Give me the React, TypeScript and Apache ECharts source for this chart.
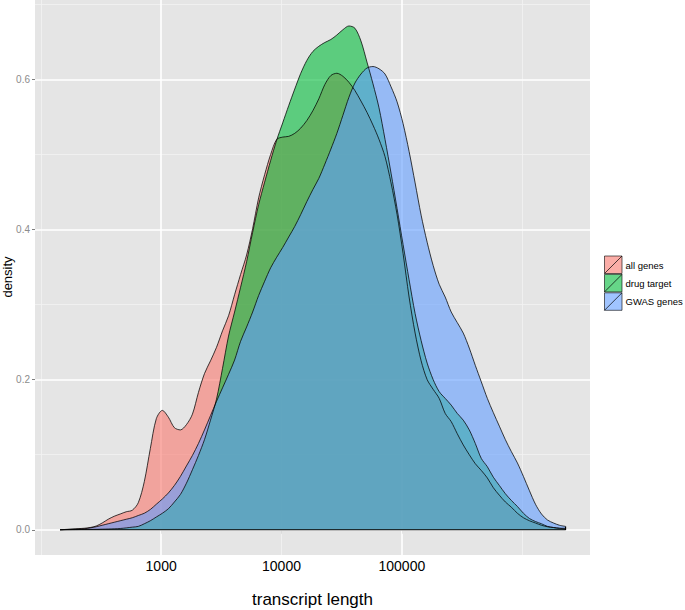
import React, { useEffect, useRef } from "react";
import * as echarts from "echarts";

// log10(transcript length) sampling positions
const logLength = [
  2.16, 2.21, 2.26, 2.31, 2.36, 2.41, 2.46, 2.51, 2.56, 2.61, 2.66, 2.71, 2.76, 2.81, 2.86, 2.91, 2.96,
  3.01, 3.06, 3.11, 3.16, 3.21, 3.26, 3.31, 3.36, 3.41, 3.46, 3.51, 3.56, 3.61, 3.66, 3.71, 3.76, 3.81,
  3.86, 3.91, 3.96, 4.01, 4.06, 4.11, 4.16, 4.21, 4.26, 4.31, 4.36, 4.41, 4.46, 4.51, 4.56, 4.61, 4.66,
  4.71, 4.76, 4.81, 4.86, 4.91, 4.96, 5.01, 5.06, 5.11, 5.16, 5.21, 5.26, 5.31, 5.36, 5.41, 5.46, 5.51,
  5.56, 5.61, 5.66, 5.71, 5.76, 5.81, 5.86, 5.91, 5.96, 6.01, 6.06, 6.11, 6.16, 6.21, 6.26, 6.31, 6.36,
];

const allGenes = [
  0.0, 0.0005, 0.001, 0.0015, 0.002, 0.003, 0.005, 0.009, 0.014, 0.018, 0.021, 0.024, 0.026, 0.036, 0.064, 0.108, 0.148,
  0.159, 0.15, 0.136, 0.133, 0.14, 0.154, 0.183, 0.208, 0.225, 0.243, 0.265, 0.285, 0.313, 0.34, 0.366, 0.401, 0.442,
  0.473, 0.5, 0.52, 0.523, 0.524, 0.528, 0.535, 0.545, 0.558, 0.574, 0.593, 0.605, 0.608, 0.604, 0.596, 0.585, 0.571,
  0.556, 0.539, 0.52, 0.497, 0.462, 0.42, 0.368, 0.31, 0.262, 0.225, 0.2, 0.187, 0.175, 0.155, 0.144, 0.128, 0.113,
  0.1, 0.088, 0.079, 0.069, 0.056, 0.046, 0.037, 0.03, 0.022, 0.016, 0.012, 0.009, 0.006, 0.004, 0.003, 0.002, 0.002,
];

const drugTarget = [
  0.0, 0.0001, 0.0002, 0.0003, 0.0004, 0.0005, 0.0006, 0.0008, 0.001, 0.0013, 0.0017, 0.0025, 0.0035, 0.0045, 0.008, 0.012, 0.017,
  0.022, 0.028, 0.037, 0.047, 0.062, 0.08, 0.099, 0.12, 0.146, 0.174, 0.215, 0.258, 0.29, 0.323, 0.357, 0.396, 0.433,
  0.463, 0.492, 0.519, 0.542, 0.565, 0.587, 0.608, 0.625, 0.637, 0.644, 0.649, 0.653, 0.659, 0.666, 0.671, 0.668, 0.651,
  0.623, 0.594, 0.562, 0.52, 0.475, 0.428, 0.38, 0.333, 0.288, 0.252, 0.222, 0.2, 0.184, 0.175, 0.166, 0.155, 0.146,
  0.133, 0.115, 0.095, 0.084, 0.07, 0.059, 0.048, 0.039, 0.031, 0.022, 0.015, 0.011, 0.008, 0.0045, 0.003, 0.002, 0.001,
];

const gwasGenes = [
  0.0, 0.0003, 0.0006, 0.001, 0.0013, 0.0025, 0.004, 0.006, 0.008, 0.01, 0.012, 0.014, 0.016, 0.019, 0.022, 0.027, 0.034,
  0.041, 0.049, 0.059, 0.071, 0.085, 0.099, 0.115, 0.133, 0.152, 0.171, 0.189, 0.207, 0.226, 0.251, 0.27, 0.29, 0.312,
  0.331, 0.349, 0.363, 0.376, 0.39, 0.404, 0.42, 0.437, 0.453, 0.468, 0.487, 0.507, 0.528, 0.552, 0.576, 0.595, 0.607,
  0.615, 0.617, 0.614, 0.607, 0.59, 0.57, 0.541, 0.504, 0.462, 0.419, 0.383, 0.352, 0.327, 0.31, 0.29, 0.276, 0.262,
  0.242, 0.219, 0.197, 0.175, 0.156, 0.138, 0.12, 0.104, 0.089, 0.071, 0.052, 0.034, 0.021, 0.013, 0.009, 0.006, 0.0045,
];

const seriesNames = ["all genes", "drug target", "GWAS genes"];
const seriesColors = ["248,118,109", "0,186,56", "97,156,255"];

const xTickLogs = [3, 4, 5];
const xTickLabels = ["1000", "10000", "100000"];
const yTicks = [0, 0.2, 0.4, 0.6];
const yTickLabels = ["0.0", "0.2", "0.4", "0.6"];
const xMajorGrid = [3, 5];
const xMinorGrid = [2, 4, 6];
const yMajorGrid = [0, 0.2, 0.4, 0.6];
const yMinorGrid = [0.1, 0.3, 0.5, 0.7];

const FONT = "'Liberation Sans', Arial, Helvetica, sans-serif";

export default function App() {
  const ref = useRef<HTMLDivElement>(null);

  useEffect(() => {
    if (!ref.current) return;
    const chart = echarts.init(ref.current, undefined, { renderer: "svg" });
    const seriesData = [allGenes, drugTarget, gwasGenes];
    const first = logLength[0];
    const last = logLength[logLength.length - 1];

    const gridLines: any[] = [];
    yMinorGrid.forEach((v) =>
      gridLines.push({ yAxis: v, lineStyle: { color: "#F2F2F2", width: 0.8, type: "solid" } })
    );
    xMinorGrid.forEach((v) =>
      gridLines.push({ xAxis: v, lineStyle: { color: "#F2F2F2", width: 0.8, type: "solid" } })
    );
    yMajorGrid.forEach((v) =>
      gridLines.push({ yAxis: v, lineStyle: { color: "#FFFFFF", width: 1.6, type: "solid" } })
    );
    xMajorGrid.forEach((v) =>
      gridLines.push({ xAxis: v, lineStyle: { color: "#FFFFFF", width: 1.6, type: "solid" } })
    );

    const series: any[] = seriesData.map((arr, si) => ({
      name: seriesNames[si],
      type: "line",
      data: logLength.map((x, i) => [x, arr[i]]),
      smooth: 0.3,
      symbol: "none",
      z: 2,
      lineStyle: { color: "#000000", width: 0.75 },
      areaStyle: { color: `rgba(${seriesColors[si]},0.6)`, opacity: 1 },
      silent: true,
    }));

    series.push({
      name: "baseline",
      type: "line",
      data: [
        [first, 0],
        [last, 0],
        [last, gwasGenes[gwasGenes.length - 1]],
      ],
      symbol: "none",
      z: 3,
      lineStyle: { color: "#000000", width: 1.2 },
      silent: true,
      markLine: {
        silent: true,
        z: 1,
        symbol: "none",
        label: { show: false },
        emphasis: { disabled: true },
        data: gridLines,
      },
    });

    const graphics: any[] = [
      {
        type: "text",
        x: 7,
        y: 277,
        rotation: Math.PI / 2,
        style: {
          x: 0,
          y: 0,
          text: "density",
          fill: "#000",
          font: `13px ${FONT}`,
          align: "center",
          verticalAlign: "middle",
        },
      },
    ];
    seriesNames.forEach((name, i) => {
      const y0 = 256 + i * 18.4;
      graphics.push({
        type: "rect",
        shape: { x: 604.5, y: y0, width: 17.5, height: 17.5 },
        style: { fill: `rgba(${seriesColors[i]},0.6)`, stroke: "#000", lineWidth: 0.6 },
      });
      graphics.push({
        type: "line",
        shape: { x1: 604.5, y1: y0 + 17.5, x2: 622, y2: y0 },
        style: { stroke: "#000", lineWidth: 0.7 },
      });
      graphics.push({
        type: "text",
        style: {
          x: 625.5,
          y: y0 + 9,
          text: name,
          fill: "#000",
          font: `9.5px ${FONT}`,
          verticalAlign: "middle",
          align: "left",
        },
      });
    });

    chart.setOption({
      animation: false,
      grid: {
        left: 35,
        right: 95,
        top: 0,
        bottom: 55,
        show: true,
        backgroundColor: "#E5E5E5",
        borderWidth: 0,
        containLabel: false,
        outerBoundsMode: "none",
      },
      xAxis: {
        type: "value",
        min: 1.952,
        max: 6.563,
        name: "transcript length",
        nameLocation: "middle",
        nameGap: 36,
        nameTextStyle: { fontSize: 17, color: "#000", fontFamily: FONT },
        axisLine: { show: false },
        splitLine: { show: false },
        axisTick: {
          show: true,
          customValues: xTickLogs,
          length: 4,
          lineStyle: { color: "#7F7F7F", width: 1 },
        },
        axisLabel: {
          customValues: xTickLogs,
          formatter: (v: number) => {
            const idx = xTickLogs.findIndex((t) => Math.abs(t - v) < 1e-6);
            return idx >= 0 ? xTickLabels[idx] : "";
          },
          fontSize: 14,
          color: "#000",
          fontFamily: FONT,
          margin: 4,
        },
      },
      yAxis: {
        type: "value",
        min: -0.0336,
        max: 0.7056,
        axisLine: { show: false },
        splitLine: { show: false },
        axisTick: {
          show: true,
          customValues: yTicks,
          length: 3,
          lineStyle: { color: "#7F7F7F", width: 1 },
        },
        axisLabel: {
          customValues: yTicks,
          formatter: (v: number) => {
            const idx = yTicks.findIndex((t) => Math.abs(t - v) < 1e-6);
            return idx >= 0 ? yTickLabels[idx] : "";
          },
          fontSize: 10,
          color: "#8C8C8C",
          fontFamily: FONT,
          margin: 5,
        },
      },
      graphic: graphics,
      series,
    });

    return () => {
      chart.dispose();
    };
  }, []);

  return (
    <div
      ref={ref}
      style={{ position: "fixed", left: 0, top: 0, width: 685, height: 610, background: "#FFFFFF" }}
    />
  );
}
